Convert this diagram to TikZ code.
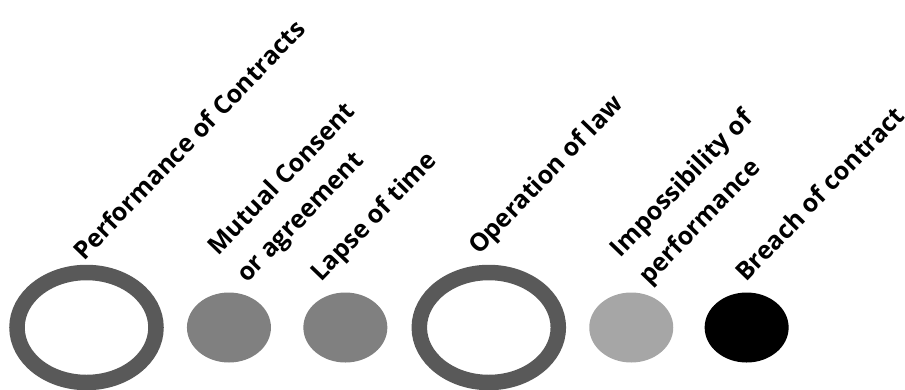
\documentclass[tikz,border=0pt]{standalone}
\usepackage{fontspec}
\setmainfont{Open Sans}
\usetikzlibrary{shapes.geometric,positioning}

\definecolor{ringgray}{HTML}{595959}
\definecolor{midgray}{HTML}{808080}
\definecolor{lightgray}{HTML}{A6A6A6}

\begin{document}
\begin{tikzpicture}[
  x=1pt, y=-1pt,
  node distance=23pt,
  ring/.style={ellipse, draw=ringgray, line width=15.5pt,
    minimum width=139pt, minimum height=110pt},
  blob/.style={ellipse, minimum width=84pt, minimum height=70pt},
  lbl/.style={rotate=46, anchor=base west, inner sep=0pt, align=left,
    font=\fontsize{25}{40}\selectfont\bfseries}
]
\useasboundingbox (0,0) rectangle (905,389);

% the six ways
\node[ring] (perf) at (86.5,327.5) {};
\node[blob, fill=midgray, right=of perf] (mutual) {};
\node[blob, fill=midgray, right=32pt of mutual] (lapse) {};
\node[ring, right=24pt of lapse] (oper) {};
\node[blob, fill=lightgray, right=of oper] (imposs) {};
\node[blob, fill=black, right=31pt of imposs] (breach) {};

% slanted labels (base = last line)
\node[lbl] (perfl) at (84,262) {Performance of Contracts};
\node[lbl] (mutuall) at (247,284) {Mutual Consent\\or agreement};
\node[lbl] (lapsel) at (321,283) {Lapse of time};
\node[lbl] (operl) at (479,256) {Operation of law};
\node[lbl] (impossl) at (649,286) {Impossibility of\\performance};
\node[lbl] (breachl) at (746,283) {Breach of contract};
\end{tikzpicture}
\end{document}
